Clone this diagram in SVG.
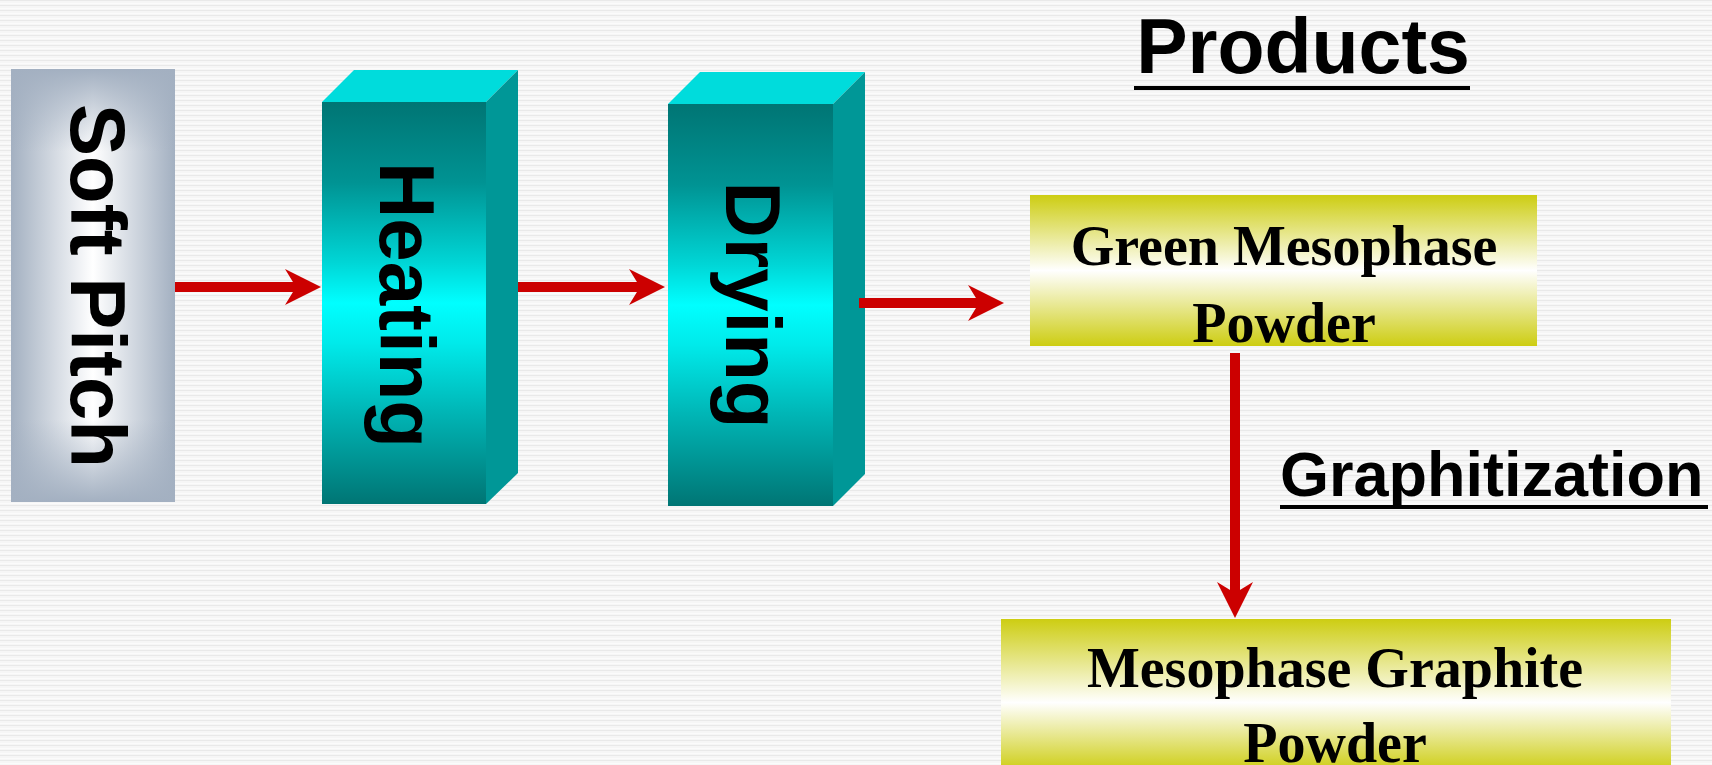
<svg xmlns="http://www.w3.org/2000/svg" width="1712" height="765" viewBox="0 0 1712 765">
<defs>
<pattern id="bgp" x="0" y="0" width="8" height="5" patternUnits="userSpaceOnUse">
<rect width="8" height="5" fill="#f6f6f6"/>
<rect y="0" width="8" height="1" fill="#e9e9e9"/>
<rect y="3" width="8" height="1" fill="#fbfbfb"/>
</pattern>
<linearGradient id="gSoftH" x1="0" y1="0" x2="1" y2="0">
<stop offset="0" stop-color="#a3b0c1"/>
<stop offset="0.5" stop-color="#ffffff"/>
<stop offset="1" stop-color="#a3b0c1"/>
</linearGradient>
<linearGradient id="gSoftV" x1="0" y1="0" x2="0" y2="1">
<stop offset="0" stop-color="#a3b0c1" stop-opacity="1"/>
<stop offset="0.19" stop-color="#a3b0c1" stop-opacity="0"/>
<stop offset="0.81" stop-color="#a3b0c1" stop-opacity="0"/>
<stop offset="1" stop-color="#a3b0c1" stop-opacity="1"/>
</linearGradient>
<linearGradient id="gTeal" x1="0" y1="0" x2="0" y2="1">
<stop offset="0" stop-color="#007574"/>
<stop offset="0.2" stop-color="#009393"/>
<stop offset="0.4" stop-color="#00d6d6"/>
<stop offset="0.5" stop-color="#00ffff"/>
<stop offset="0.6" stop-color="#00eaea"/>
<stop offset="0.77" stop-color="#00b6b6"/>
<stop offset="1" stop-color="#007574"/>
</linearGradient>
<linearGradient id="gYel" x1="0" y1="0" x2="0" y2="1">
<stop offset="0" stop-color="#cdcd12"/>
<stop offset="0.5" stop-color="#ffffff"/>
<stop offset="1" stop-color="#cdcd12"/>
</linearGradient>
<linearGradient id="gYel2" x1="0" y1="0" x2="0" y2="1">
<stop offset="0" stop-color="#cdcd12"/>
<stop offset="0.55" stop-color="#ffffff"/>
<stop offset="1" stop-color="#cdcd12"/>
</linearGradient>
<marker id="ah" markerUnits="userSpaceOnUse" markerWidth="40" markerHeight="40" refX="11" refY="18" orient="auto" viewBox="0 0 40 40">
<path d="M0,0 L36,18 L0,36 L11,18 Z" fill="#cc0000"/>
</marker>
<style>
.conn{stroke:#cc0000;stroke-width:10;fill:none;marker-end:url(#ah)}
.sans{font-family:"Liberation Sans",Arial,sans-serif;font-weight:bold;fill:#000}
.serif{font-family:"Liberation Serif","Times New Roman",serif;font-weight:bold;fill:#000;font-size:56px}
.top{fill:#00dcdc}
.side{fill:#009797}
</style>
</defs>
<rect width="1712" height="765" fill="url(#bgp)"/>

<g id="soft-pitch">
<rect x="11" y="69" width="164" height="433" fill="url(#gSoftH)"/>
<rect x="11" y="69" width="164" height="433" fill="url(#gSoftV)"/>
<text class="sans" font-size="78" text-anchor="middle" transform="translate(71,286) rotate(90)">Soft Pitch</text>
</g>

<g id="heating">
<polygon class="top" points="322,102 354,70 518,70 486,102"/>
<polygon class="side" points="486,102 518,70 518,473 486,504"/>
<rect x="322" y="102" width="164" height="402" fill="url(#gTeal)"/>
<text class="sans" font-size="78" text-anchor="middle" transform="translate(380,305) rotate(90)">Heating</text>
</g>

<g id="drying">
<polygon class="top" points="668,104 700,72 865,72 833,104"/>
<polygon class="side" points="833,104 865,72 865,474 833,506"/>
<rect x="668" y="104" width="165" height="402" fill="url(#gTeal)"/>
<text class="sans" font-size="78" text-anchor="middle" transform="translate(726,305) rotate(90)">Drying</text>
</g>

<g id="products-label">
<text class="sans" font-size="77" text-anchor="middle" x="1303" y="73">Products</text>
<rect x="1134" y="86" width="336" height="4" fill="#000"/>
</g>

<g id="green-powder">
<rect x="1030" y="195" width="507" height="151" fill="url(#gYel)"/>
<text class="serif" text-anchor="middle" x="1284" y="265">Green Mesophase</text>
<text class="serif" text-anchor="middle" x="1284" y="342">Powder</text>
</g>

<g id="graphitization-label">
<text class="sans" font-size="63" x="1280" y="496">Graphitization</text>
<rect x="1280" y="505" width="428" height="4" fill="#000"/>
</g>

<g id="graphite-powder">
<rect x="1001" y="619" width="670" height="152" fill="url(#gYel2)"/>
<text class="serif" text-anchor="middle" x="1335" y="687">Mesophase Graphite</text>
<text class="serif" text-anchor="middle" x="1335" y="762">Powder</text>
</g>

<g id="connectors">
<line class="conn" x1="175" y1="287" x2="296" y2="287"/>
<line class="conn" x1="518" y1="287" x2="640" y2="287"/>
<line class="conn" x1="859" y1="303" x2="979" y2="303"/>
<line class="conn" x1="1235" y1="353" x2="1235" y2="593"/>
</g>
</svg>
